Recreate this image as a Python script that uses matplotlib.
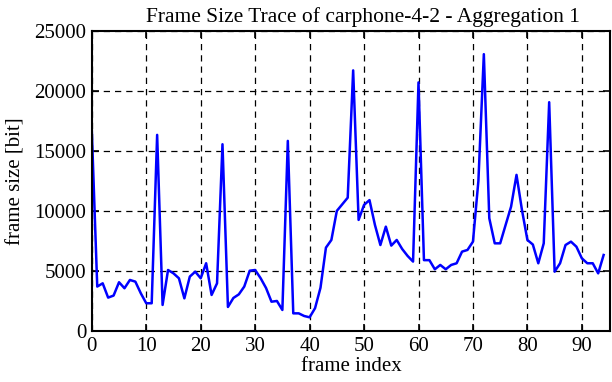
import matplotlib
matplotlib.use('Agg')
import matplotlib.pyplot as plt
import numpy as np

plt.rcParams['font.family'] = ['Liberation Serif', 'DejaVu Serif']

# frame sizes in bit
frame_index = np.arange(95)
frame_size = [
    16700, 3700, 3970, 2780, 2950, 4060, 3560, 4250, 4110, 3140,
    2310, 2310, 16330, 2170, 5080, 4800, 4390, 2720, 4530, 4940,
    4390, 5640, 3000, 3970, 15550, 2000, 2750, 3050, 3700, 5020,
    5080, 4400, 3580, 2440, 2500, 1750, 15830, 1470, 1470, 1250,
    1140, 1900, 3600, 6940, 7580, 10000, 10550, 11100, 21700, 9250,
    10500, 10900, 8830, 7160, 8690, 7110, 7580, 6830, 6250, 5780,
    20700, 5900, 5900, 5140, 5500, 5140, 5500, 5640, 6610, 6750,
    7440, 12500, 23050, 9390, 7300, 7300, 8830, 10350, 13000, 10080,
    7580, 7200, 5640, 7300, 19050, 4940, 5640, 7160, 7440, 7020,
    6050, 5640, 5640, 4800, 6330,
]
x_ticks = [0, 10, 20, 30, 40, 50, 60, 70, 80, 90]
y_ticks = [0, 5000, 10000, 15000, 20000, 25000]

fig = plt.figure(figsize=(6.12, 3.82), dpi=100)
ax = fig.add_axes([0.150, 0.1335, 0.847, 0.786])

ax.plot(frame_index, frame_size, color='#0000ff', lw=1.8)

ax.set_xlim(0, 95.2)
ax.set_ylim(0, 25000)
ax.set_xticks(x_ticks)
ax.set_yticks(y_ticks)
ax.grid(True, color='black', ls=(0, (5, 4)), lw=0.9)
ax.tick_params(direction='in', length=5, width=1.2, top=True, right=True,
               labelsize=15, pad=4)
for s in ax.spines.values():
    s.set_linewidth(1.5)

ax.set_xlabel('frame index', fontsize=15, labelpad=1)
ax.set_ylabel('frame size [bit]', fontsize=15, labelpad=6)
ax.set_title('Frame Size Trace of carphone-4-2 - Aggregation 1', fontsize=15.5,
             pad=6, x=0.523)

fig.savefig('out.png', dpi=100)
